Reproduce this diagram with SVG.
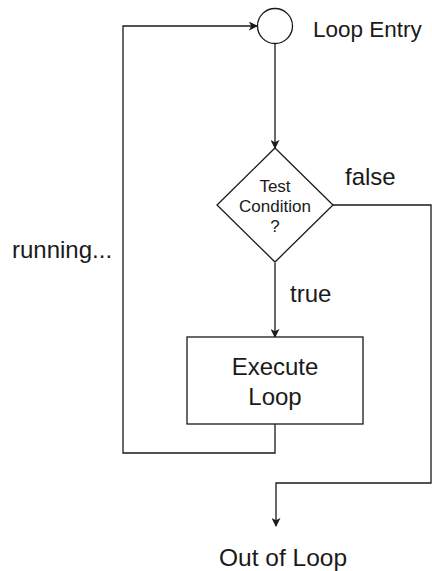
<svg xmlns="http://www.w3.org/2000/svg" width="432" height="571" viewBox="0 0 432 571">
<style>
.s{fill:#fff;stroke:#1a1a1a;stroke-width:1.3}
.c{fill:none;stroke:#1a1a1a;stroke-width:1.3}
text{font-family:"Liberation Sans",Arial,sans-serif;fill:#1a1a1a}
.m{font-size:17px;text-anchor:middle}
.l{font-size:24px}
</style>
<defs>
<marker id="a" viewBox="0 0 10 10" refX="9" refY="5" markerWidth="9" markerHeight="9" markerUnits="userSpaceOnUse" orient="auto">
<path d="M0,0 L10,5 L0,10 L2.5,5 Z" fill="#1a1a1a"/>
</marker>
</defs>
<rect width="432" height="571" fill="#fff"/>
<g id="connectors">
<path class="c" d="M275,44 V148" marker-end="url(#a)"/>
<path class="c" d="M275,263 V337" marker-end="url(#a)"/>
<path class="c" d="M275,424 V453 H123 V26 H257" marker-end="url(#a)"/>
<path class="c" d="M333,205 H431 V483 H276 V526" marker-end="url(#a)"/>
</g>
<g id="entry">
<circle class="s" cx="275" cy="26" r="17.5"/>
<text x="313" y="37" font-size="22.5">Loop Entry</text>
</g>
<g id="condition">
<polygon class="s" points="275,148 333,205 275,262 217,205"/>
<text x="275" y="192" class="m">Test</text>
<text x="275" y="212" class="m">Condition</text>
<text x="275" y="232" class="m">?</text>
</g>
<g id="execute">
<rect class="s" x="187" y="337" width="176" height="87"/>
<text x="275" y="375" class="l" text-anchor="middle">Execute</text>
<text x="275" y="405" class="l" text-anchor="middle">Loop</text>
</g>
<g id="exit">
<text x="219" y="566" font-size="24.5">Out of Loop</text>
</g>
<g id="labels">
<text x="345" y="185" class="l">false</text>
<text x="290" y="302" class="l">true</text>
<text x="12" y="258" class="l">running...</text>
</g>
</svg>
